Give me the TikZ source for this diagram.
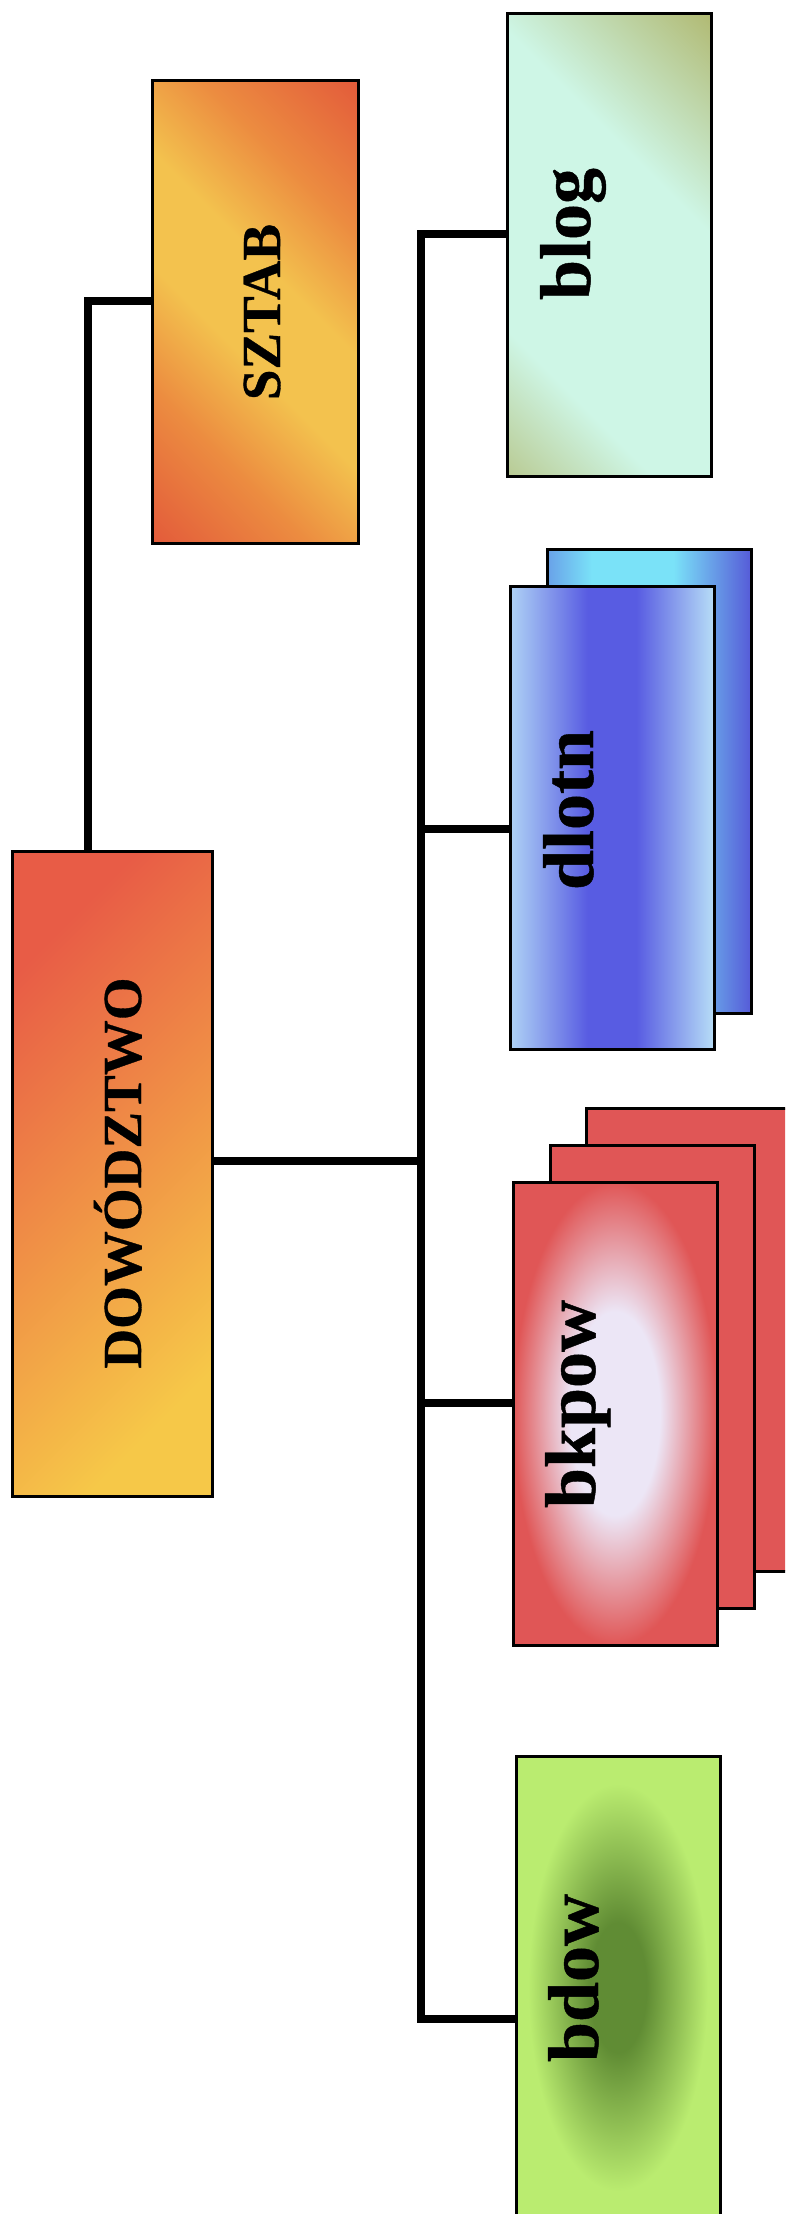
\documentclass[tikz,border=0pt]{standalone}
\usepackage{fontspec}
\setmainfont{Liberation Serif}[BoldFeatures={FakeBold=0.6}]
\definecolor{szRed}{RGB}{226,86,58}
\definecolor{szOra}{RGB}{236,140,64}
\definecolor{szYel}{RGB}{243,194,78}
\definecolor{dwRed}{RGB}{232,92,70}
\definecolor{dwOra}{RGB}{240,145,70}
\definecolor{dwYel}{RGB}{246,200,72}
\definecolor{blOli}{RGB}{176,184,112}
\definecolor{blAqu}{RGB}{206,246,230}
\definecolor{dlLc}{RGB}{198,242,250}
\definecolor{dlBl}{RGB}{88,92,226}
\definecolor{dbBl}{RGB}{84,84,214}
\definecolor{dbCy}{RGB}{122,226,248}
\definecolor{bkRed}{RGB}{224,86,86}
\definecolor{bkCen}{RGB}{236,230,246}
\definecolor{bdLg}{RGB}{186,236,112}
\definecolor{bdDg}{RGB}{96,140,52}
\pgfdeclareverticalshading{sztabsh}{100bp}{color(0bp)=(szRed); color(13bp)=(szRed); color(31bp)=(szOra); color(44bp)=(szYel); color(56bp)=(szYel); color(69bp)=(szOra); color(87bp)=(szRed); color(100bp)=(szRed)}
\pgfdeclareverticalshading{blogsh}{100bp}{color(0bp)=(blOli); color(8bp)=(blOli); color(30bp)=(blAqu); color(62bp)=(blAqu); color(86bp)=(blOli); color(100bp)=(blOli)}
\pgfdeclarehorizontalshading{dlotnfsh}{100bp}{color(0bp)=(dlLc); color(20bp)=(dlLc); color(44bp)=(dlBl); color(56bp)=(dlBl); color(78bp)=(dlLc); color(100bp)=(dlLc)}
\pgfdeclarehorizontalshading{dlotnbsh}{100bp}{color(0bp)=(dbBl); color(12bp)=(dbBl); color(36bp)=(dbCy); color(56bp)=(dbCy); color(76bp)=(dbBl); color(100bp)=(dbBl)}
\pgfdeclareradialshading{bkpowsh}{\pgfpoint{0bp}{0bp}}{color(0bp)=(bkCen); color(11bp)=(bkCen); color(25bp)=(bkRed); color(50bp)=(bkRed)}
\pgfdeclareradialshading{bdowsh}{\pgfpoint{0bp}{0bp}}{color(0bp)=(bdDg); color(7bp)=(bdDg); color(22bp)=(bdLg); color(50bp)=(bdLg)}
\begin{document}
\begin{tikzpicture}[x=1pt,y=-1pt,
  boxst/.style={rectangle, draw=black, line width=3pt, inner sep=0pt, outer sep=0pt, anchor=north west},
  conn/.style={line width=8pt, line join=miter},
  caps/.style={font=\fontsize{55}{60}\selectfont\bfseries, rotate=90, anchor=base, inner sep=0pt},
  lows/.style={font=\fontsize{72}{80}\selectfont\bfseries, rotate=90, anchor=base, inner sep=0pt}]
\fill[white] (0,0) rectangle (785,2214);
\useasboundingbox (0,0) rectangle (785,2214);
\clip (0,0) rectangle (785,2214);
% boxes
\node[boxst, minimum width=206pt, minimum height=463pt, shade, shading=sztabsh, shading angle=-45] (sztab) at (152,80) {};
\node[boxst, minimum width=200pt, minimum height=645pt, top color=dwRed, bottom color=dwYel, middle color=dwOra, shading angle=45] (dow) at (12,851) {};
\node[boxst, minimum width=204pt, minimum height=463pt, shade, shading=blogsh, shading angle=-45] (blog) at (507,13) {};
\node[boxst, minimum width=204pt, minimum height=464pt, shade, shading=dlotnbsh] (dlotnB) at (547,549) {};
\node[boxst, minimum width=204pt, minimum height=463pt, shade, shading=dlotnfsh] (dlotnF) at (510,586) {};
\node[boxst, minimum width=204pt, minimum height=463pt, fill=bkRed] (bkpowB) at (586,1108) {};
\node[boxst, minimum width=204pt, minimum height=463pt, fill=bkRed] (bkpowM) at (550,1145) {};
\node[boxst, minimum width=204pt, minimum height=463pt, shade, shading=bkpowsh] (bkpowF) at (513,1182) {};
\node[boxst, minimum width=204pt, minimum height=463pt, shade, shading=bdowsh] (bdow) at (516,1756) {};
% connectors
\coordinate (sj) at (88,301);
\coordinate (tt) at (421,234);
\coordinate (tb) at (421,2019);
\coordinate (c1) at (421,1161);
\coordinate (c2) at (421,829);
\coordinate (c3) at (421,1403);
\draw[conn] (dow.north -| sj) -- (sj) -- (sztab.west |- sj);
\draw[conn] (blog.west |- tt) -- (tt) -- (tb) -- (bdow.west |- tb);
\draw[conn] (dow.east |- c1) -- (c1);
\draw[conn] (c2) -- (dlotnF.west |- c2);
\draw[conn] (c3) -- (bkpowF.west |- c3);
% labels
\node[caps] (sztabT) at (280,312) {SZTAB};
\node[caps] (dowT) at (141,1173) {DOWÓDZTWO};
\node[lows] (blogT) at (590,234) {blog};
\node[lows] (dlotnT) at (593,810) {dlotn};
\node[lows] (bkpowT) at (595,1404) {bkpow};
\node[lows] (bdowT) at (598,1978) {bdow};
\end{tikzpicture}
\end{document}
